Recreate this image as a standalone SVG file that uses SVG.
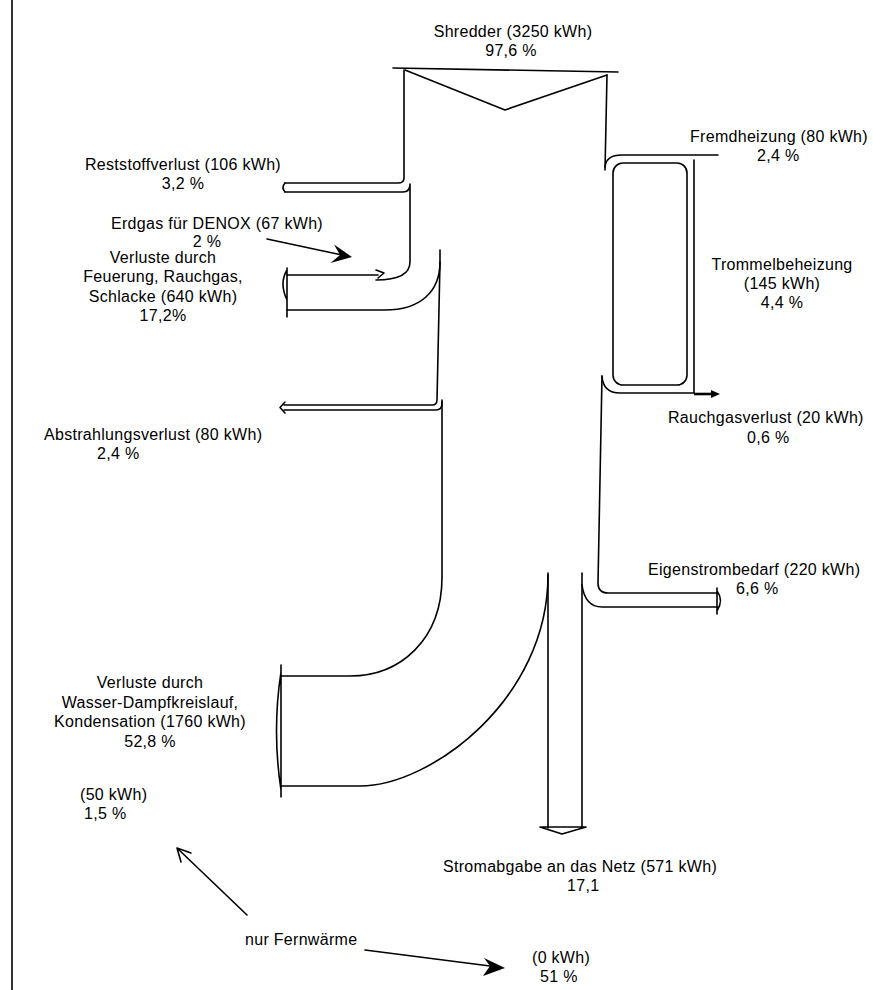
<svg xmlns="http://www.w3.org/2000/svg" width="873" height="990" viewBox="0 0 873 990">
<style>
.f{fill:none;stroke:#000;stroke-width:1.6;stroke-linecap:round;stroke-linejoin:round}
.t{font-family:"Liberation Sans",Arial,sans-serif;font-size:16px;letter-spacing:0.3px;fill:#000}
.m{text-anchor:middle}
</style>
<rect width="873" height="990" fill="#fff"/>
<line x1="12" y1="0" x2="12" y2="990" stroke="#000" stroke-width="1.6"/>
<g id="flows">
<!-- shredder funnel -->
<path class="f" d="M393,68 L618,72 M405,70 L505,110 L607,75"/>
<!-- left stem upper -->
<path class="f" d="M404,70 L404,178 Q404,183 398,183 L285,183"/>
<path class="f" d="M285,192 L403,192 Q410,192 410,184 L410,262 Q410,280 376,280"/>
<path class="f" d="M285,183 Q281,187.5 285,192"/>
<!-- feuerung branch -->
<path class="f" d="M287,275 L378,275 M376,270 L384,273 L378,278"/>
<path class="f" d="M440,250 L440,262 C440,292 420,310 385,310 L287,310"/>
<path class="f" d="M287,268 L287,317 M287,270 Q279,283 287,300"/>
<!-- abstrahlung -->
<path class="f" d="M440,262 L437,400 Q437,405 432,405 L284,405"/>
<path class="f" d="M284,410 L436,410 Q442,410 442,403 L442,400"/>
<path class="f" d="M285,402 L280,407.5 L285,413"/>
<!-- big loss -->
<path class="f" d="M442,402 L442,577 C442,640 400,676 350,676 L281,676"/>
<path class="f" d="M281,786 L360,786 C430,786 548,700 548,575"/>
<path class="f" d="M281,665 L281,797 M281,672 Q272,731 281,790"/>
<!-- stem lower -->
<path class="f" d="M548,573 L548,828"/>
<path class="f" d="M582,573 L582,828"/>
<path class="f" d="M540,827 L586,827 L562,834 Z" fill="#fff"/>
<!-- right side top -->
<path class="f" d="M607,75 L605,170"/>
<path class="f" d="M605,167 Q606,155 622,155 L718,155"/>
<path class="f" d="M694,160 L694,393"/>
<rect class="f" x="613" y="163" width="74" height="222" rx="10" ry="10"/>
<path class="f" d="M602,376 Q603,393 620,393 L694,393"/>
<path d="M694,394 L712,394" stroke="#000" stroke-width="2.6"/>
<path d="M711,390 L720,394 L711,398 Z" fill="#000"/>
<!-- eigenstrom -->
<path class="f" d="M602,376 L598,583 Q598,593 608,593 L717,593"/>
<path class="f" d="M582,585 Q585,607 602,607 L717,607"/>
<path class="f" d="M717,588 L717,614 M717,591 Q724,600 717,611"/>
</g>
<g id="connectors">
<path class="f" d="M267,239 L342,255"/>
<path d="M352,257 L334,244.5 L340,255 L330.5,263 Z" fill="#000"/>
<path class="f" d="M247,915 L177,848 M177,848 L181,862 M177,848 L191,853"/>
<path class="f" d="M365,950 L490,966"/>
<path d="M505,968 L484,958 L490,966 L483,976 Z" fill="#000"/>
</g>
<g id="n-shredder"><text class="t m" x="513" y="37">Shredder (3250 kWh)</text><text class="t m" x="511" y="56">97,6 %</text></g>
<g id="n-fremd"><text class="t" x="690" y="142">Fremdheizung (80 kWh)</text><text class="t" x="757" y="161">2,4 %</text></g>
<g id="n-rest"><text class="t m" x="183" y="170">Reststoffverlust (106 kWh)</text><text class="t m" x="183" y="189">3,2 %</text></g>
<g id="n-erdgas"><text class="t m" x="217" y="229">Erdgas für DENOX (67 kWh)</text><text class="t m" x="207" y="247">2 %</text></g>
<g id="n-feuerung"><text class="t m" x="163" y="263">Verluste durch</text><text class="t m" x="163" y="282">Feuerung, Rauchgas,</text><text class="t m" x="163" y="302">Schlacke (640 kWh)</text><text class="t m" x="163" y="321">17,2%</text></g>
<g id="n-trommel"><text class="t m" x="782" y="270">Trommelbeheizung</text><text class="t m" x="782" y="289">(145 kWh)</text><text class="t m" x="782" y="308">4,4 %</text></g>
<g id="n-rauchgas"><text class="t" x="668" y="423">Rauchgasverlust (20 kWh)</text><text class="t" x="747" y="443">0,6 %</text></g>
<g id="n-abstr"><text class="t" x="44" y="440">Abstrahlungsverlust (80 kWh)</text><text class="t" x="97" y="459">2,4 %</text></g>
<g id="n-eigen"><text class="t" x="648" y="575">Eigenstrombedarf (220 kWh)</text><text class="t" x="736" y="594">6,6 %</text></g>
<g id="n-wasser"><text class="t m" x="150" y="688">Verluste durch</text><text class="t m" x="150" y="708">Wasser-Dampfkreislauf,</text><text class="t m" x="150" y="727">Kondensation (1760 kWh)</text><text class="t m" x="150" y="747">52,8 %</text></g>
<g id="n-50"><text class="t" x="80" y="800">(50 kWh)</text><text class="t" x="84" y="819">1,5 %</text></g>
<g id="n-strom"><text class="t" x="443" y="872">Stromabgabe an das Netz (571 kWh)</text><text class="t" x="567" y="891">17,1</text></g>
<g id="n-fern"><text class="t" x="245" y="945">nur Fernwärme</text></g>
<g id="n-0"><text class="t" x="532" y="963">(0 kWh)</text><text class="t" x="540" y="982">51 %</text></g>
</svg>
